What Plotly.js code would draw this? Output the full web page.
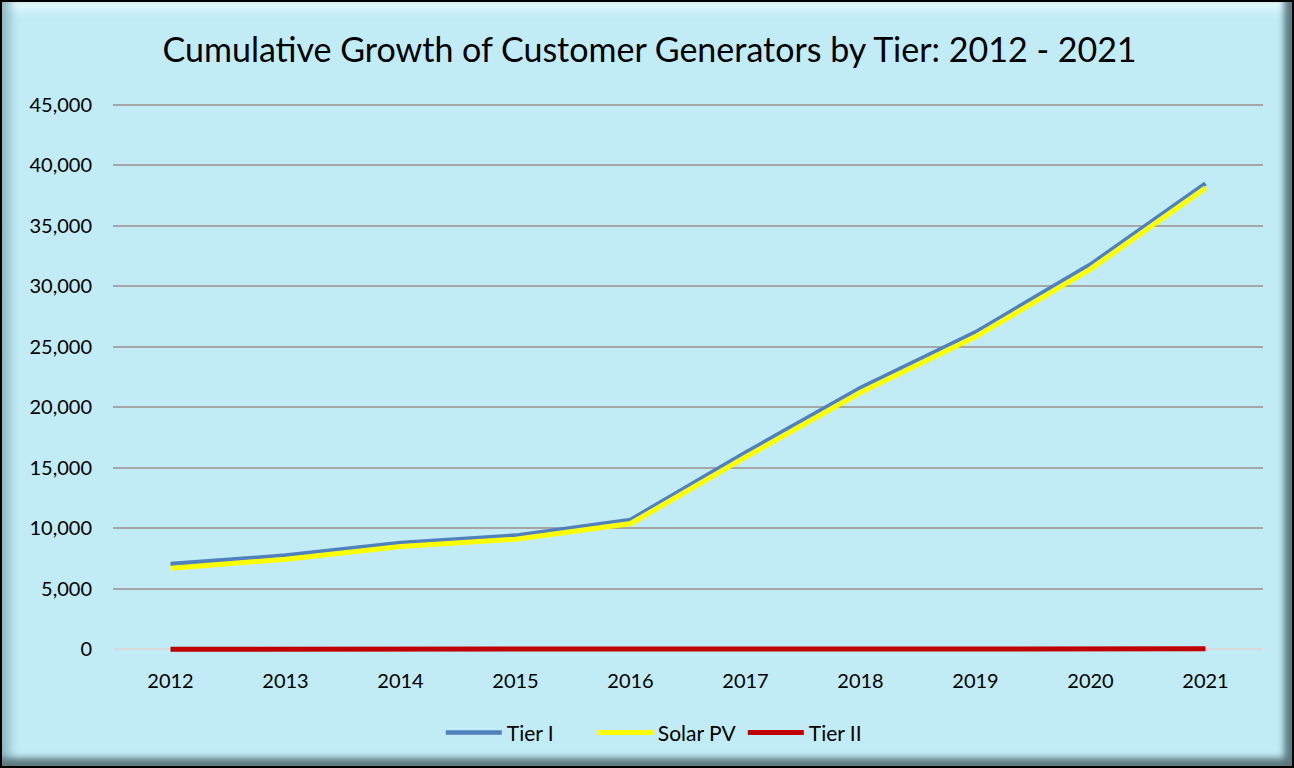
<!DOCTYPE html>
<html>
<head>
<meta charset="utf-8">
<script src="https://cdn.plot.ly/plotly-3.0.1.min.js"></script>
<style>
  html, body { margin: 0; padding: 0; width: 1294px; height: 768px; overflow: hidden; background: #ffffff; }
  #frame {
    position: absolute; left: 0; top: 0; width: 1294px; height: 768px; box-sizing: border-box;
    border: 2px solid #000;
    background: #C2ECF5;
    box-shadow:
      inset 0 -12px 6px -4px rgba(90,118,124,0.95),
      inset -12px 0 6px -4px rgba(90,118,124,0.95),
      inset 16px 0 10px -8px rgba(130,175,185,0.8),
      inset 0 16px 10px -8px rgba(230,250,254,0.95);
  }
  #chart { position: absolute; left: 0; top: 0; width: 1294px; height: 768px; }
</style>
</head>
<body>
<div id="frame"></div>
<div id="chart"></div>
<script>
const years = ['2012','2013','2014','2015','2016','2017','2018','2019','2020','2021'];
const tierI   = [7050, 7750, 8800, 9400, 10700, 16250, 21600, 26200, 31800, 38500];
const solarPV = [6700, 7450, 8500, 9100, 10400, 15900, 21250, 25850, 31450, 38150];
const tierII  = [15, 17, 19, 21, 24, 28, 31, 36, 40, 45];
const yTicks  = [0, 5000, 10000, 15000, 20000, 25000, 30000, 35000, 40000, 45000];
const yTickText = ['0','5,000','10,000','15,000','20,000','25,000','30,000','35,000','40,000','45,000'];

const font = 'Lato, "Open Sans", sans-serif';

const traces = [
  { x: years, y: tierI, name: 'Tier I', type: 'scatter', mode: 'lines',
    line: { color: '#4F81BD', width: 4.5 } },
  { x: years, y: solarPV, name: 'Solar PV', type: 'scatter', mode: 'lines',
    line: { color: '#FFFF00', width: 5 } },
  { x: years, y: tierII, name: 'Tier II', type: 'scatter', mode: 'lines',
    line: { color: '#C00000', width: 5 } }
];

const layout = {
  width: 1294, height: 768,
  paper_bgcolor: 'rgba(0,0,0,0)',
  plot_bgcolor: 'rgba(0,0,0,0)',
  margin: { l: 113, r: 31, t: 103, b: 115 },
  title: { text: 'Cumulative Growth of Customer Generators by Tier: 2012 - 2021',
           font: { family: font, size: 34, color: '#000' },
           x: 0.502, xanchor: 'center', y: 0.935, yanchor: 'middle' },
  xaxis: { type: 'category', range: [-0.5, 9.5], showgrid: false, showline: false, zeroline: false,
           ticks: '', ticklabelstandoff: 14,
           tickfont: { family: font, size: 20, color: '#000' } },
  yaxis: { range: [-300, 45150], tickvals: yTicks, ticktext: yTickText,
           showgrid: true, gridcolor: '#A6A6A6', gridwidth: 2,
           zeroline: true, zerolinecolor: '#D9D9D9', zerolinewidth: 2,
           showline: false, ticks: '', ticklabelstandoff: 20,
           tickfont: { family: font, size: 20, color: '#000' } },
  legend: { orientation: 'h', x: 0.482, xanchor: 'center', y: -0.145, yanchor: 'middle',
            font: { family: font, size: 21, color: '#000' }, itemwidth: 56,
            entrywidth: 80, entrywidthmode: 'pixels',
            bgcolor: 'rgba(0,0,0,0)', traceorder: 'normal' },
  showlegend: true
};

Plotly.newPlot('chart', traces, layout, { displayModeBar: false, staticPlot: true });
</script>
</body>
</html>
